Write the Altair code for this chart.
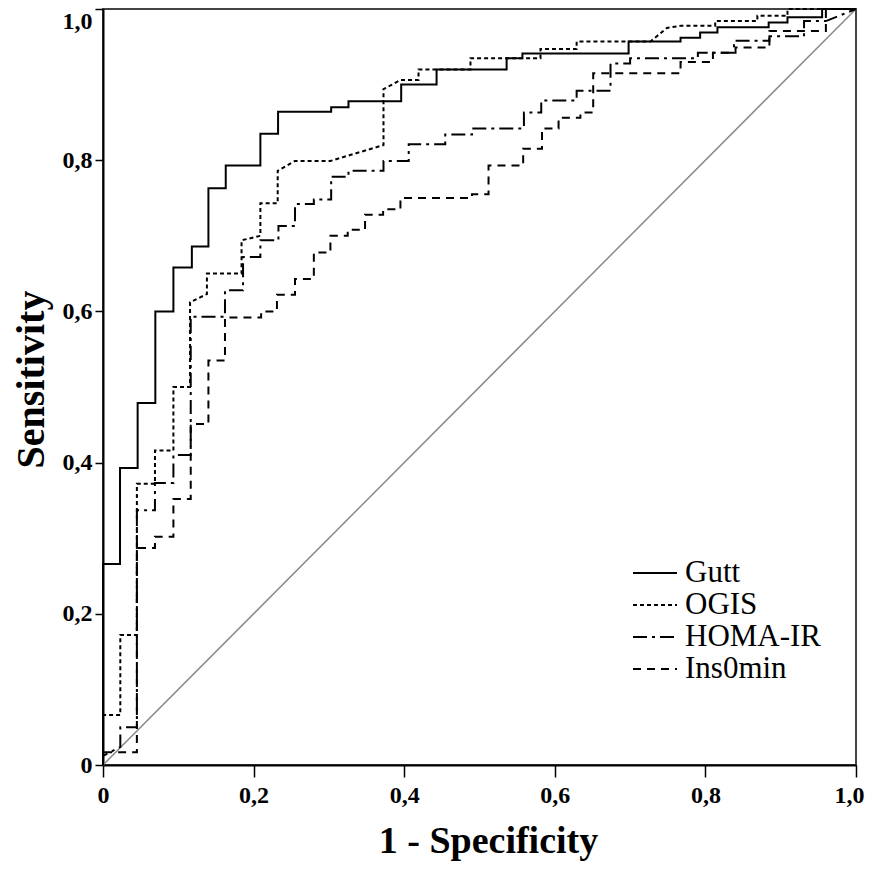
import altair as alt
import pandas as pd

series_names = ["Gutt", "OGIS", "HOMA-IR", "Ins0min"]

gutt = [(0, 0), (0, 0.266), (0.0226, 0.266), (0.0226, 0.393), (0.046, 0.393), (0.046, 0.479),
        (0.0695, 0.479), (0.0695, 0.600), (0.0935, 0.600), (0.0935, 0.658), (0.118, 0.658),
        (0.118, 0.686), (0.140, 0.686), (0.140, 0.763), (0.163, 0.763), (0.163, 0.793),
        (0.209, 0.793), (0.209, 0.835), (0.2325, 0.835), (0.2325, 0.864), (0.303, 0.864),
        (0.303, 0.870), (0.326, 0.870), (0.326, 0.878), (0.396, 0.878), (0.396, 0.900),
        (0.443, 0.900), (0.443, 0.920), (0.536, 0.920), (0.536, 0.935), (0.557, 0.935),
        (0.557, 0.941), (0.698, 0.941), (0.698, 0.957), (0.767, 0.957), (0.767, 0.962),
        (0.793, 0.962), (0.793, 0.969), (0.816, 0.969), (0.816, 0.976), (0.884, 0.976),
        (0.884, 0.982), (0.909, 0.982), (0.909, 0.989), (0.955, 0.989), (0.955, 1.0), (1.0, 1.0)]

ogis = [(0, 0), (0, 0.066), (0.023, 0.066), (0.023, 0.172), (0.045, 0.172), (0.045, 0.372),
        (0.069, 0.372), (0.069, 0.416), (0.0935, 0.416), (0.0935, 0.500), (0.1156, 0.500),
        (0.1156, 0.612), (0.138, 0.623), (0.138, 0.650), (0.184, 0.650), (0.184, 0.694),
        (0.209, 0.700), (0.209, 0.743), (0.232, 0.743), (0.232, 0.786), (0.255, 0.799),
        (0.302, 0.799), (0.3725, 0.820), (0.3725, 0.894), (0.395, 0.906), (0.419, 0.906),
        (0.419, 0.920), (0.488, 0.920), (0.488, 0.935), (0.581, 0.935), (0.581, 0.947),
        (0.629, 0.947), (0.629, 0.957), (0.727, 0.957), (0.749, 0.975), (0.768, 0.978),
        (0.813, 0.978), (0.813, 0.984), (0.869, 0.984), (0.869, 0.991), (0.909, 0.991),
        (0.909, 1.0), (1.0, 1.0)]

homa = [(0, 0), (0, 0.012), (0.023, 0.024), (0.023, 0.050), (0.045, 0.050), (0.045, 0.337),
        (0.069, 0.337), (0.069, 0.373), (0.0935, 0.373), (0.0935, 0.410), (0.1165, 0.410),
        (0.1165, 0.593), (0.162, 0.593), (0.162, 0.628), (0.186, 0.628), (0.186, 0.672),
        (0.209, 0.672), (0.209, 0.694), (0.233, 0.694), (0.233, 0.713), (0.255, 0.713),
        (0.255, 0.742), (0.280, 0.742), (0.280, 0.748), (0.303, 0.748), (0.303, 0.778),
        (0.326, 0.778), (0.326, 0.786), (0.3725, 0.786), (0.3725, 0.799), (0.406, 0.799),
        (0.406, 0.821), (0.4545, 0.821), (0.4545, 0.834), (0.49, 0.834), (0.49, 0.842),
        (0.559, 0.842), (0.559, 0.863), (0.582, 0.863), (0.582, 0.879), (0.629, 0.879),
        (0.629, 0.892), (0.674, 0.892), (0.674, 0.928), (0.70, 0.928), (0.70, 0.935),
        (0.79, 0.935), (0.79, 0.942), (0.838, 0.942), (0.838, 0.958), (0.885, 0.958),
        (0.885, 0.964), (0.931, 0.964), (0.931, 0.984), (0.96, 0.984), (1.0, 1.0)]

ins0 = [(0, 0), (0, 0.017), (0.045, 0.017), (0.045, 0.287), (0.069, 0.287), (0.069, 0.302),
        (0.0935, 0.302), (0.0935, 0.352), (0.1165, 0.352), (0.1165, 0.451), (0.140, 0.451),
        (0.140, 0.535), (0.162, 0.535), (0.162, 0.592), (0.21, 0.592), (0.21, 0.600),
        (0.231, 0.600), (0.231, 0.622), (0.255, 0.622), (0.255, 0.643), (0.280, 0.643),
        (0.280, 0.678), (0.302, 0.678), (0.302, 0.700), (0.325, 0.700), (0.325, 0.708),
        (0.348, 0.708), (0.348, 0.728), (0.372, 0.728), (0.372, 0.735), (0.395, 0.735),
        (0.395, 0.750), (0.49, 0.750), (0.49, 0.755), (0.512, 0.755), (0.512, 0.793),
        (0.558, 0.793), (0.558, 0.815), (0.583, 0.815), (0.583, 0.842), (0.605, 0.842),
        (0.605, 0.856), (0.634, 0.856), (0.634, 0.863), (0.651, 0.863), (0.651, 0.915),
        (0.767, 0.915), (0.767, 0.930), (0.81, 0.930), (0.81, 0.942), (0.84, 0.942),
        (0.84, 0.949), (0.885, 0.949), (0.885, 0.971), (0.96, 0.971), (0.96, 1.0), (1.0, 1.0)]

diagonal = [(0, 0), (1, 1)]
tick_values = [0, 0.2, 0.4, 0.6, 0.8, 1.0]
dash_styles = [[1, 0], [4, 3], [14, 5, 3, 5], [8, 6]]

rows = []
for name, pts in zip(series_names, [gutt, ogis, homa, ins0]):
    for i, (x, y) in enumerate(pts):
        rows.append({"series": name, "fpr": x, "tpr": y, "idx": i})
df = pd.DataFrame(rows)
diag_df = pd.DataFrame([{"fpr": x, "tpr": y, "idx": i} for i, (x, y) in enumerate(diagonal)])

FONT = "Liberation Serif"
label_expr = "datum.value == 0 ? '0' : replace(format(datum.value, '.1f'), '.', ',')"

x_axis = alt.Axis(values=tick_values, labelExpr=label_expr, grid=False,
                  domainColor="black", domainWidth=2, tickColor="black", tickWidth=1.5,
                  tickSize=12, labelFont=FONT, labelFontWeight="bold", labelFontSize=24,
                  labelColor="black", labelPadding=6, labelFlush=False,
                  labelOffset={"condition": {"test": "datum.value >= 1", "value": -7}, "value": 0},
                  title="1 - Specificity", titleFont=FONT, titleFontSize=38,
                  titleFontWeight="bold", titleColor="black", titleX=385, titleY=87,
                  titleBaseline="alphabetic", titleAlign="center")
y_axis = alt.Axis(values=tick_values, labelExpr=label_expr, grid=False,
                  domainColor="black", domainWidth=2, tickColor="black", tickWidth=1.5,
                  tickSize=8, labelFont=FONT, labelFontWeight="bold", labelFontSize=24,
                  labelColor="black", labelPadding=3, labelFlush=False,
                  labelOffset={"condition": {"test": "datum.value >= 1", "value": 12}, "value": 0},
                  title="Sensitivity", titleFont=FONT, titleFontSize=40,
                  titleFontWeight="bold", titleColor="black", titleX=-60, titleY=370,
                  titleBaseline="alphabetic", titleAlign="center", titleAngle=270)

xs = alt.Scale(domain=[0, 1], nice=False, zero=False)
ys = alt.Scale(domain=[0, 1], nice=False, zero=False)

diag_layer = alt.Chart(diag_df).mark_line(color="#8a8a8a", strokeWidth=1.5).encode(
    x=alt.X("fpr:Q", scale=xs, axis=x_axis),
    y=alt.Y("tpr:Q", scale=ys, axis=y_axis),
    order="idx:Q",
)

lines = alt.Chart(df).mark_line(color="black", strokeWidth=2).encode(
    x=alt.X("fpr:Q", scale=xs),
    y=alt.Y("tpr:Q", scale=ys),
    strokeDash=alt.StrokeDash(
        "series:N",
        scale=alt.Scale(domain=series_names, range=dash_styles),
        legend=alt.Legend(orient="none", legendX=529, legendY=548, title=None,
                          symbolType="stroke", symbolSize=1936, symbolStrokeWidth=2,
                          symbolStrokeColor="black", labelFont=FONT, labelFontSize=31,
                          labelColor="black", labelOffset=7, rowPadding=0, padding=0,
                          clipHeight=32),
    ),
    detail="series:N",
    order="idx:Q",
)

chart = alt.layer(diag_layer, lines).properties(
    width=753, height=756,
    autosize=alt.AutoSizeParams(type="none"),
    padding={"left": 95, "top": 1, "right": 10, "bottom": 96},
    background="white",
).configure_view(stroke="#444444", strokeWidth=2)

chart.save("out.html", embed_options={"renderer": "svg", "actions": False})
